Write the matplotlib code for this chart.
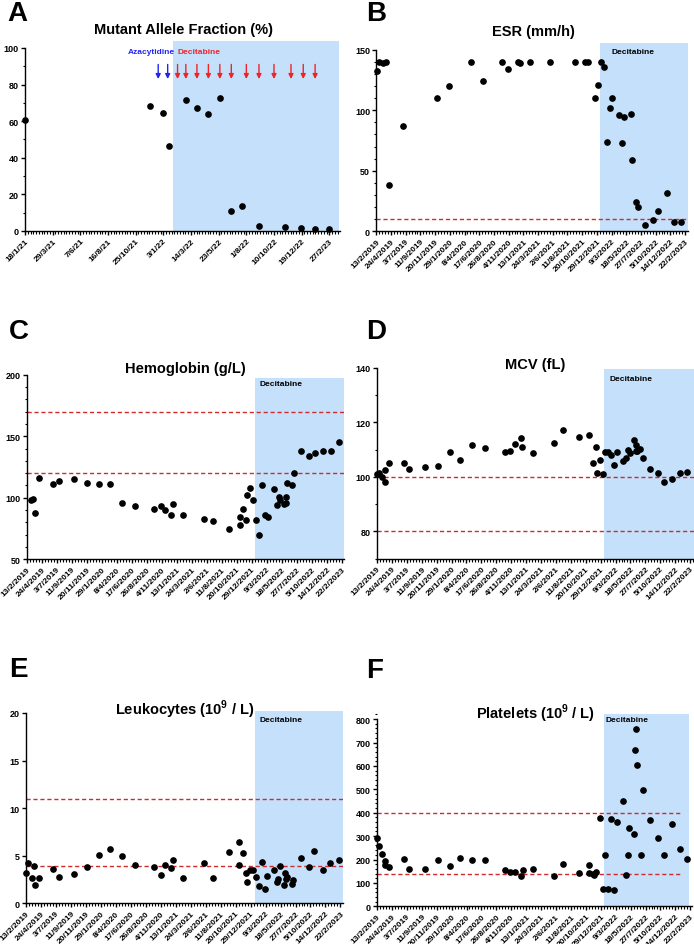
import matplotlib
matplotlib.use('Agg')
import matplotlib.pyplot as plt
import matplotlib.dates as mdates
import numpy as np
import pandas as pd
from matplotlib.ticker import FixedLocator, MultipleLocator

plt.rcParams['font.family'] = ['Liberation Sans', 'DejaVu Sans']
plt.rcParams['font.weight'] = 'bold'
plt.rcParams['mathtext.fontset'] = 'custom'
plt.rcParams['mathtext.rm'] = 'Liberation Sans:bold'
plt.rcParams['mathtext.bf'] = 'Liberation Sans:bold'

# ---- data (days counted from the first x tick of each panel) ----
# A: mutant allele fraction, days after 18/1/2021
maf_day = [0, 316, 349, 364, 407, 435, 464, 493, 522, 549, 593, 658, 699, 734, 770]
maf_val = [60.7, 68.2, 64.2, 46.4, 71.6, 67.1, 64.0, 72.7, 11.1, 13.8, 2.7, 2.2, 1.6, 1.1, 1.1]
aza_day = [337, 361]
dec_day = [386, 407, 435, 464, 493, 522, 560, 592, 630, 673, 704, 734]
a_ticks = ['18/1/21', '29/3/21', '7/6/21', '16/8/21', '25/10/21', '3/1/22',
           '14/3/22', '23/5/22', '1/8/22', '10/10/22', '19/12/22', '27/2/23']

# B-F: days after 13/2/2019
esr_day = [3, 11, 32, 46, 60, 128, 287, 344, 449, 509, 600, 628, 676, 684, 731, 828, 948,
           993, 1010, 1042, 1056, 1071, 1085, 1099, 1112, 1124, 1155, 1169, 1181, 1212,
           1216, 1237, 1245, 1280, 1315, 1343, 1383, 1418, 1453]
esr_val = [132, 140, 139, 140, 38, 87, 110, 120, 140, 124, 140, 134, 140, 139, 140, 140, 140,
           140, 140, 110, 121, 140, 136, 74, 102, 110, 96, 73, 94, 97,
           59, 24, 20, 5, 9, 17, 32, 8, 8]

hb_day = [22, 30, 37, 56, 123, 149, 222, 283, 339, 389, 446, 506, 596, 625, 646, 672, 681,
          728, 826, 871, 946, 994, 996, 1010, 1024, 1030, 1042, 1056, 1070, 1084, 1098,
          1112, 1125, 1154, 1168, 1176, 1182, 1202, 1209, 1212, 1216, 1238, 1246, 1282,
          1318, 1344, 1385, 1419, 1456]
hb_val = [98, 99, 88, 116, 111, 114, 115, 112, 111, 111, 96, 93, 91, 93, 90, 86, 95,
          86, 83, 81, 75, 78, 84, 91, 82, 102, 108, 98, 82, 70, 110,
          86, 84, 107, 94, 101, 98, 95, 96, 101, 112, 110, 120, 138,
          134, 136, 138, 138, 145]

mcv_day = [0, 8, 25, 38, 39, 56, 125, 150, 224, 285, 341, 391, 447, 508, 599, 626, 647, 674,
           683, 732, 829, 873, 949, 996, 1012, 1026, 1034, 1045, 1059, 1071, 1085, 1101,
           1115, 1129, 1156, 1170, 1178, 1187, 1206, 1214, 1215, 1223, 1237, 1248, 1284,
           1320, 1348, 1387, 1421, 1456]
mcv_val = [101.1, 101.3, 100, 98, 102.7, 105.1, 105.3, 103, 103.6, 104, 109, 106.2, 111.8,
           110.7, 109.1, 109.6, 112.2, 114.3, 110.9, 108.9, 112.4, 117.3, 114.5, 115.5,
           105.2, 111.1, 101.6, 106.4, 101.2, 109, 109.3, 108, 104.5, 109.3, 105.8, 106.9,
           109.8, 108.8, 113.7, 109.4, 111.7, 109.4, 110.3, 106.9, 102.8, 101.5, 98, 99.1,
           101.6, 101.9]

wbc_day = [0, 9, 28, 39, 40, 59, 126, 153, 226, 287, 343, 392, 450, 509, 600, 629, 649, 676,
           685, 732, 830, 875, 950, 998, 998, 1014, 1028, 1034, 1048, 1060, 1074, 1088,
           1102, 1116, 1129, 1158, 1172, 1180, 1186, 1207, 1213, 1216, 1221, 1243, 1250,
           1286, 1322, 1348, 1389, 1423, 1461]
wbc_val = [3.2, 4.2, 2.7, 3.9, 1.9, 2.7, 3.6, 2.8, 3.1, 3.8, 5.1, 5.7, 5.0, 4.0, 3.8, 3.0,
           4.0, 3.7, 4.6, 2.7, 4.2, 2.7, 5.4, 6.4, 4.0, 5.3, 3.2, 2.2, 3.5, 3.5, 2.8, 1.8,
           4.3, 1.5, 2.9, 3.5, 2.2, 2.6, 3.9, 1.9, 3.2, 2.6, 2.8, 2.0, 2.4, 4.8, 3.8, 5.5,
           3.5, 4.2, 4.6]

plt_day = [0, 8, 25, 39, 39, 56, 125, 150, 224, 285, 341, 391, 447, 508, 599, 626, 647, 674,
           683, 732, 829, 873, 949, 996, 996, 1012, 1020, 1026, 1045, 1059, 1071, 1085,
           1099, 1112, 1127, 1156, 1170, 1178, 1182, 1204, 1212, 1214, 1218, 1237, 1246,
           1282, 1318, 1345, 1384, 1420, 1454]
plt_val = [290, 258, 222, 192, 178, 169, 201, 159, 159, 196, 172, 208, 196, 199, 154, 145,
           145, 131, 157, 159, 130, 182, 144, 175, 141, 137, 132, 145, 377, 75, 219, 74,
           374, 70, 362, 450, 134, 219, 335, 307, 666, 756, 604, 221, 495,
           369, 290, 218, 352, 245, 204]

lab_ticks = ['13/2/2019', '24/4/2019', '3/7/2019', '11/9/2019', '20/11/2019', '29/1/2020',
             '8/4/2020', '17/6/2020', '26/8/2020', '4/11/2020', '13/1/2021', '24/3/2021',
             '2/6/2021', '11/8/2021', '20/10/2021', '29/12/2021', '9/3/2022', '18/5/2022',
             '27/7/2022', '5/10/2022', '14/12/2022', '22/2/2023']

W, H = 694, 945
SHADE = '#c5e0fb'
REF = '#d02a2a'

fig = plt.figure(figsize=(W / 100, H / 100), dpi=100)


def rect(l, r, t, b):
    return [l / W, 1 - b / H, (r - l) / W, (b - t) / H]


def make_panel(box, base, fmt, ticks, minor_step, xend, ylim, ytop, ymajor, yminor,
               shade, shade_top, days, vals, refs=(), ref_end=None):
    ax = fig.add_axes(rect(*box))
    x0 = mdates.date2num(pd.Timestamp(base))
    tick_pos = mdates.date2num(pd.to_datetime(ticks, format=fmt).to_pydatetime())
    ax.fill_betweenx([ylim[0], shade_top], x0 + shade[0], x0 + shade[1],
                     color=SHADE, lw=0, zorder=0)
    for r in refs:
        end = x0 + (ref_end if ref_end is not None else xend)
        ax.plot([x0, end], [r, r], color=REF, lw=1.0, ls=(0, (3, 2)), zorder=1)
    ax.plot(x0 + np.asarray(days, float), vals, 'o', color='black', ms=3.8,
            clip_on=False, zorder=3)
    ax.set_xlim(x0, x0 + xend)
    ax.set_ylim(*ylim)
    for s in ['top', 'right']:
        ax.spines[s].set_visible(False)
    for s in ['left', 'bottom']:
        ax.spines[s].set_linewidth(1.0)
    ax.spines['left'].set_bounds(ylim[0], ytop)
    ax.xaxis.set_major_locator(FixedLocator(tick_pos))
    ax.xaxis.set_minor_locator(FixedLocator(np.arange(x0, x0 + xend, minor_step)))
    ax.set_xticklabels(ticks, rotation=45, ha='right', rotation_mode='anchor',
                       fontsize=6, fontweight='bold')
    ax.yaxis.set_major_locator(MultipleLocator(ymajor))
    if yminor:
        ax.yaxis.set_minor_locator(MultipleLocator(yminor))
    ax.set_yticks([t for t in ax.get_yticks() if ylim[0] <= t <= ytop])
    for lab in ax.get_yticklabels():
        lab.set_fontsize(6.5)
        lab.set_fontweight('bold')
    ax.tick_params(which='major', length=3, width=1.0, pad=1.5)
    ax.tick_params(which='minor', length=1.8, width=0.8)
    return ax, x0


def ftext(x, y, s, **kw):
    fig.text(x / W, 1 - y / H, s, **kw)


# ---- A ----
axA, a0 = make_panel((25, 340, 42, 232), '2021-01-18', '%d/%m/%y', a_ticks, 7, 797,
                     (0, 103.8), 100, 20, 10, (375, 795), 103.8, maf_day, maf_val)
for d in aza_day:
    axA.annotate('', xy=(a0 + d, 81.5), xytext=(a0 + d, 92.5),
                 arrowprops=dict(arrowstyle='-|>', color='#2424f0', lw=1.0, mutation_scale=7))
for d in dec_day:
    axA.annotate('', xy=(a0 + d, 81.5), xytext=(a0 + d, 92.5),
                 arrowprops=dict(arrowstyle='-|>', color='#f02424', lw=1.0, mutation_scale=7))
ftext(128, 52, 'Azacytidine', color='#2424f0', fontsize=6, fontweight='bold', va='center')
ftext(178, 52, 'Decitabine', color='#f02424', fontsize=6, fontweight='bold', va='center')

# ---- B ----
make_panel((376.3, 688, 44, 232.3), '2019-02-13', '%d/%m/%Y', lab_ticks, 14, 1484,
           (0, 155.5), 150, 50, 10, (1064, 1484), 155.5, esr_day, esr_val, refs=[10])
# ---- C ----
make_panel((26.7, 344, 375.7, 560.3), '2019-02-13', '%d/%m/%Y', lab_ticks, 14, 1481,
           (50, 200), 200, 50, 10, (1066, 1481), 197.3, hb_day, hb_val, refs=[120, 170])
# ---- D ----
make_panel((377, 693.5, 369, 559.7), '2019-02-13', '%d/%m/%Y', lab_ticks, 14, 1486,
           (70, 140), 140, 20, 10, (1068, 1486), 139.6, mcv_day, mcv_val, refs=[80, 100])
# ---- E ----
make_panel((26, 343, 712, 904.3), '2019-02-13', '%d/%m/%Y', lab_ticks, 14, 1482,
           (0, 20.2), 20, 5, None, (1070, 1482), 20.2, wbc_day, wbc_val, refs=[3.9, 11])
# ---- F ----
make_panel((377, 692, 715, 907.3), '2019-02-13', '%d/%m/%Y', lab_ticks, 14, 1478,
           (0, 821.8), 800, 100, 20, (1065, 1464), 821.8, plt_day, plt_val,
           refs=[140, 400], ref_end=1420)

# titles
tkw = dict(fontsize=10.5, fontweight='bold', ha='center', va='center')
ftext(183, 30, 'Mutant Allele Fraction (%)', **tkw)
ftext(533, 32, 'ESR (mm/h)', **tkw)
ftext(185, 369, 'Hemoglobin (g/L)', **tkw)
ftext(535, 365, 'MCV (fL)', **tkw)
ftext(185, 710, r'Leukocytes (10$^{\mathbf{9}}$ / L)', **tkw)
ftext(535, 714, r'Platelets (10$^{\mathbf{9}}$ / L)', **tkw)

# Decitabine labels in shaded area
dkw = dict(fontsize=6, fontweight='bold', va='center', color='black')
ftext(611, 53, 'Decitabine', **dkw)
ftext(259, 385, 'Decitabine', **dkw)
ftext(610, 380, 'Decitabine', **dkw)
ftext(259, 721, 'Decitabine', **dkw)
ftext(606, 721, 'Decitabine', **dkw)

# panel letters
lkw = dict(fontsize=20, fontweight='bold', va='center', ha='left')
ftext(7, 14, 'A', **lkw)
ftext(366, 14, 'B', **lkw)
ftext(9, 332, 'C', **lkw)
ftext(366, 332, 'D', **lkw)
ftext(9, 670, 'E', **lkw)
ftext(366, 671, 'F', **lkw)

fig.savefig('out.png', dpi=100)
